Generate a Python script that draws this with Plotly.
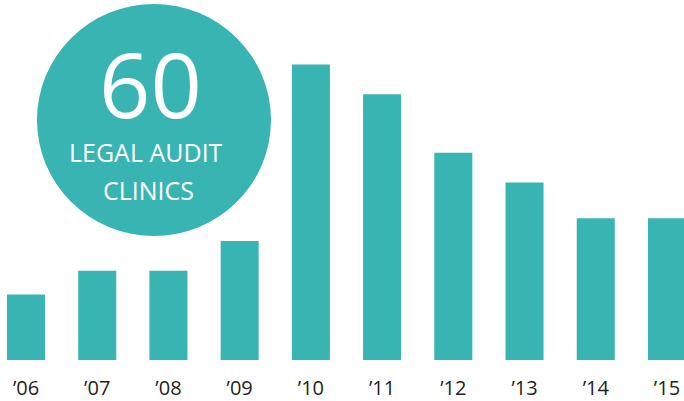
import plotly.graph_objects as go

years = ["\u201906", "\u201907", "\u201908", "\u201909", "\u201910",
         "\u201911", "\u201912", "\u201913", "\u201914", "\u201915"]
values = [66, 90, 90, 120, 298, 268, 209, 179, 143, 143]

big_number = "60"
caption_line1 = "LEGAL AUDIT"
caption_line2 = "CLINICS"

teal = "#38b5b2"
W, H = 684, 401

fig = go.Figure(go.Bar(
    x=list(range(len(years))), y=values,
    marker=dict(color=teal, line=dict(width=0)),
    width=0.534,
))

fig.update_layout(
    width=W, height=H,
    margin=dict(l=0, r=0, t=0, b=38),
    paper_bgcolor="white", plot_bgcolor="white",
    showlegend=False,
    xaxis=dict(
        range=[-0.365, 9.239],
        tickmode="array", tickvals=list(range(len(years))), ticktext=years,
        showgrid=False, zeroline=False, showline=False, ticks="",
        tickfont=dict(family="Open Sans", size=20, color="#231f20"),
        ticklabelstandoff=14,
    ),
    yaxis=dict(range=[0, 363], visible=False, showgrid=False, zeroline=False),
    shapes=[dict(
        type="circle", xref="paper", yref="paper",
        x0=37 / W, x1=271 / W,
        y0=(H - 38 - 238) / (H - 38), y1=(H - 38 - 4) / (H - 38),
        fillcolor=teal, line=dict(width=0), layer="above",
    )],
    annotations=[
        dict(text=big_number, xref="paper", yref="paper",
             x=150 / W, y=(363 - 84) / 363, showarrow=False,
             xanchor="center", yanchor="middle", height=84,
             font=dict(family="Open Sans", size=90, color="white")),
        dict(text=caption_line1, xref="paper", yref="paper",
             x=146 / W, y=(363 - 153) / 363, showarrow=False,
             xanchor="center", yanchor="middle", height=26,
             font=dict(family="Open Sans", size=25, color="white")),
        dict(text=caption_line2, xref="paper", yref="paper",
             x=148 / W, y=(363 - 192) / 363, showarrow=False,
             xanchor="center", yanchor="middle", height=26,
             font=dict(family="Open Sans", size=25, color="white")),
    ],
)

fig.write_html("out.html", config={"displayModeBar": False},
               post_script="document.body.style.margin='0';")
